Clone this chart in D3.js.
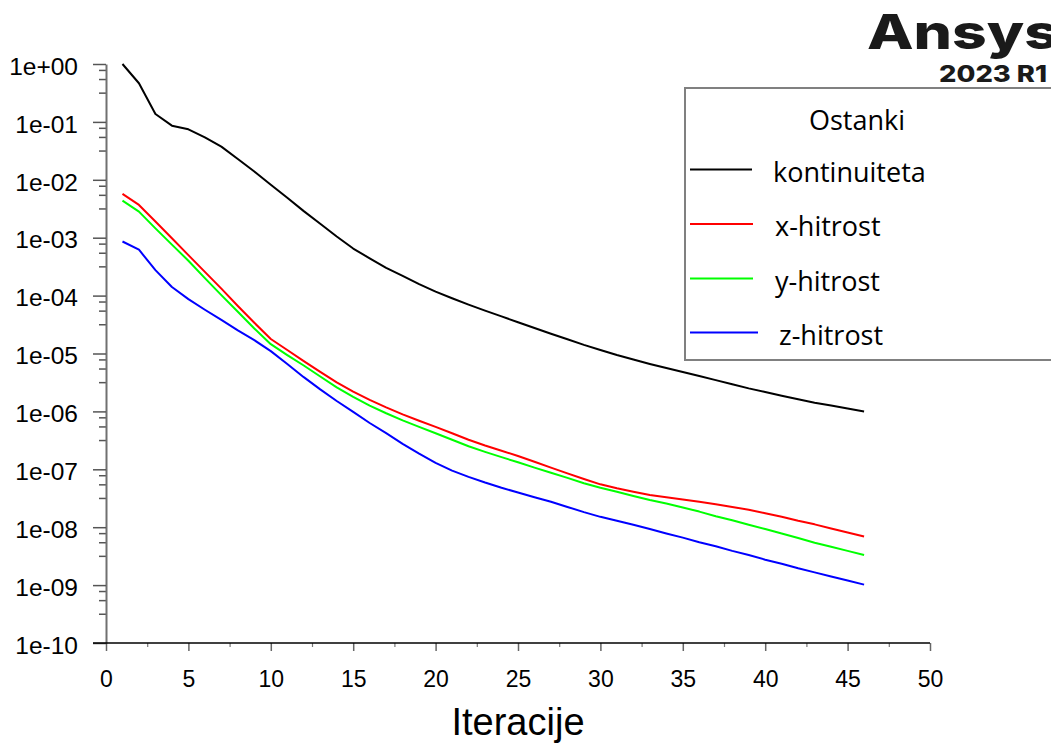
<!DOCTYPE html>
<html>
<head>
<meta charset="utf-8">
<script src="https://cdn.jsdelivr.net/npm/d3@7"></script>
<style>
  body { margin: 0; background: #fff; }
  .tick text { font-family: "Liberation Sans", Arial, sans-serif; fill: #000; }
</style>
</head>
<body>
<div class="chart"></div>
<script>
// iterations 1..46
var iterations = d3.range(1, 47);

var kontinuiteta = [1.0, 0.465, 0.137, 0.0861, 0.0745, 0.0542, 0.0374, 0.0229, 0.0139, 0.00822,
  0.0049, 0.00288, 0.00174, 0.00105, 6.5e-4, 4.4e-4, 3.02e-4, 2.19e-4, 1.58e-4, 1.17e-4,
  9.0e-5, 7.0e-5, 5.5e-5, 4.37e-5, 3.47e-5, 2.75e-5, 2.19e-5, 1.76e-5, 1.41e-5, 1.15e-5,
  9.4e-6, 7.85e-6, 6.6e-6, 5.6e-6, 4.8e-6, 4.1e-6, 3.47e-6, 2.95e-6, 2.5e-6, 2.16e-6,
  1.86e-6, 1.62e-6, 1.41e-6, 1.26e-6, 1.12e-6, 1.0e-6];

var xHitrost = [5.7e-3, 3.68e-3, 1.91e-3, 9.8e-4, 5.0e-4, 2.57e-4, 1.32e-4, 6.6e-5, 3.39e-5, 1.78e-5,
  1.15e-5, 7.4e-6, 4.8e-6, 3.16e-6, 2.19e-6, 1.58e-6, 1.17e-6, 8.9e-7, 6.9e-7, 5.4e-7,
  4.2e-7, 3.24e-7, 2.57e-7, 2.09e-7, 1.7e-7, 1.35e-7, 1.07e-7, 8.5e-8, 6.8e-8, 5.5e-8,
  4.7e-8, 4.1e-8, 3.6e-8, 3.3e-8, 3.0e-8, 2.75e-8, 2.5e-8, 2.24e-8, 2.0e-8, 1.74e-8,
  1.51e-8, 1.29e-8, 1.12e-8, 9.5e-9, 8.1e-9, 6.9e-9];

var yHitrost = [4.37e-3, 2.82e-3, 1.45e-3, 7.6e-4, 4.0e-4, 2.0e-4, 1.02e-4, 5.25e-5, 2.7e-5, 1.45e-5,
  9.4e-6, 6.2e-6, 4.0e-6, 2.6e-6, 1.78e-6, 1.26e-6, 9.3e-7, 7.0e-7, 5.4e-7, 4.2e-7,
  3.24e-7, 2.5e-7, 2.0e-7, 1.62e-7, 1.32e-7, 1.07e-7, 8.7e-8, 7.1e-8, 5.75e-8, 4.8e-8,
  4.1e-8, 3.47e-8, 2.95e-8, 2.57e-8, 2.19e-8, 1.86e-8, 1.55e-8, 1.32e-8, 1.1e-8, 9.3e-9,
  7.8e-9, 6.5e-9, 5.4e-9, 4.6e-9, 3.9e-9, 3.3e-9];

var zHitrost = [8.6e-4, 6.2e-4, 2.75e-4, 1.41e-4, 8.7e-5, 5.7e-5, 3.8e-5, 2.5e-5, 1.7e-5, 1.1e-5,
  6.6e-6, 3.9e-6, 2.4e-6, 1.51e-6, 9.8e-7, 6.3e-7, 4.2e-7, 2.75e-7, 1.86e-7, 1.29e-7,
  9.5e-8, 7.4e-8, 5.9e-8, 4.8e-8, 3.98e-8, 3.3e-8, 2.75e-8, 2.24e-8, 1.82e-8, 1.51e-8,
  1.29e-8, 1.1e-8, 9.3e-9, 7.8e-9, 6.6e-9, 5.5e-9, 4.7e-9, 3.9e-9, 3.3e-9, 2.75e-9,
  2.34e-9, 1.95e-9, 1.66e-9, 1.41e-9, 1.2e-9, 1.02e-9];

var seriesNames = ["kontinuiteta", "x-hitrost", "y-hitrost", "z-hitrost"];
var seriesColors = ["#000000", "#ff0000", "#00ff00", "#0000ff"];
var seriesValues = [kontinuiteta, xHitrost, yHitrost, zHitrost];

var xTicks = d3.range(0, 51, 5);
var xMinorTicks = d3.range(2.5, 50, 5);
var yTicks = d3.range(-10, 1).map(e => Math.pow(10, e));
var yMinorFactors = [0.79, 0.55, 0.32];

var svgWidth = 1051;
var svgHeight = 744;

var svg = d3.select(".chart")
  .append("svg")
  .attr("width", svgWidth)
  .attr("height", svgHeight);

var xScale = d3.scaleLinear().domain([0, 50]).range([106, 930]);
var yScale = d3.scaleLog().domain([1e-10, 1]).range([643, 64]);

function expLabel(d) {
  var e = Math.round(Math.log10(d));
  return "1e" + (e < 0 ? "-" : "+") + String(Math.abs(e)).padStart(2, "0");
}

// y minor ticks
var yMinor = [];
yTicks.slice(1).forEach(t => yMinorFactors.forEach(f => yMinor.push(t * f)));

var yMinorAxis = svg.append("g")
  .attr("transform", "translate(106,0)")
  .call(d3.axisLeft(yScale).tickValues(yMinor).tickSize(7).tickFormat(""));
yMinorAxis.select(".domain").remove();
yMinorAxis.selectAll("line").attr("stroke", "#555").attr("stroke-width", 1.5);

// y major axis
var yAxis = svg.append("g")
  .attr("transform", "translate(106,0)")
  .call(d3.axisLeft(yScale).tickValues(yTicks).tickSize(13).tickSizeOuter(0)
    .tickPadding(15).tickFormat(expLabel));
yAxis.select(".domain").attr("stroke", "#707070").attr("stroke-width", 2);
yAxis.selectAll("line").attr("stroke", "#555").attr("stroke-width", 1.5);
yAxis.selectAll("text").attr("font-size", 24.5).attr("dy", "0.42em");

// x axis
var xMinorAxis = svg.append("g")
  .attr("transform", "translate(0,643)")
  .call(d3.axisBottom(xScale).tickValues(xMinorTicks).tickSize(4).tickFormat(""));
xMinorAxis.select(".domain").remove();
xMinorAxis.selectAll("line").attr("stroke", "#777").attr("stroke-width", 1.2);

var xAxis = svg.append("g")
  .attr("transform", "translate(0,643)")
  .call(d3.axisBottom(xScale).tickValues(xTicks).tickSize(8).tickSizeOuter(0).tickPadding(20));
xAxis.select(".domain").remove();
xAxis.selectAll("line").attr("stroke", "#666").attr("stroke-width", 1.5);
xAxis.selectAll("text").attr("font-size", 23);

svg.append("line")
  .attr("x1", 93).attr("x2", xScale(50))
  .attr("y1", 643).attr("y2", 643)
  .attr("stroke", "#000").attr("stroke-width", 1.5);

svg.append("text")
  .attr("x", (xScale(0) + xScale(50)) / 2)
  .attr("y", 735)
  .attr("text-anchor", "middle")
  .attr("font-family", "'Liberation Sans', Arial, sans-serif")
  .attr("font-size", 38)
  .text("Iteracije");

// lines
var line = d3.line()
  .x((d, i) => xScale(iterations[i]))
  .y(d => yScale(d));

seriesValues.forEach((vals, k) => {
  svg.append("path")
    .datum(vals)
    .attr("d", line)
    .attr("fill", "none")
    .attr("stroke", seriesColors[k])
    .attr("stroke-width", 2)
    .attr("stroke-linejoin", "round");
});

// legend
var legend = svg.append("g");
legend.append("rect")
  .attr("x", 685).attr("y", 88)
  .attr("width", 380).attr("height", 272)
  .attr("fill", "#fff")
  .attr("stroke", "#808080").attr("stroke-width", 2);

legend.append("text")
  .attr("x", 857).attr("y", 130)
  .attr("text-anchor", "middle")
  .attr("font-family", "'Open Sans', sans-serif")
  .attr("font-size", 27)
  .text("Ostanki");

var legendY = [169.5, 224, 278.5, 332.5];
var legendLineEnd = [752, 753, 753, 758];
var legendTextX = [773, 775, 775, 779];
seriesNames.forEach((name, k) => {
  legend.append("line")
    .attr("x1", 690).attr("x2", legendLineEnd[k])
    .attr("y1", legendY[k]).attr("y2", legendY[k])
    .attr("stroke", seriesColors[k]).attr("stroke-width", 2);
  legend.append("text")
    .attr("x", legendTextX[k]).attr("y", legendY[k] + 12)
    .attr("font-family", "'Open Sans', sans-serif")
    .attr("font-size", 27)
    .text(name);
});

// logo
svg.append("text")
  .attr("x", 867).attr("y", 49)
  .attr("font-family", "Inter, 'Open Sans', sans-serif")
  .attr("font-weight", 800)
  .attr("font-size", 48)
  .attr("textLength", 192)
  .attr("lengthAdjust", "spacingAndGlyphs")
  .attr("fill", "#1a1a1a")
  .text("Ansys");

svg.append("text")
  .attr("x", 939).attr("y", 82)
  .attr("font-family", "Inter, 'Open Sans', sans-serif")
  .attr("font-weight", 800)
  .attr("font-size", 23)
  .attr("textLength", 108)
  .attr("lengthAdjust", "spacingAndGlyphs")
  .attr("fill", "#1a1a1a")
  .text("2023 R1");
</script>
</body>
</html>
